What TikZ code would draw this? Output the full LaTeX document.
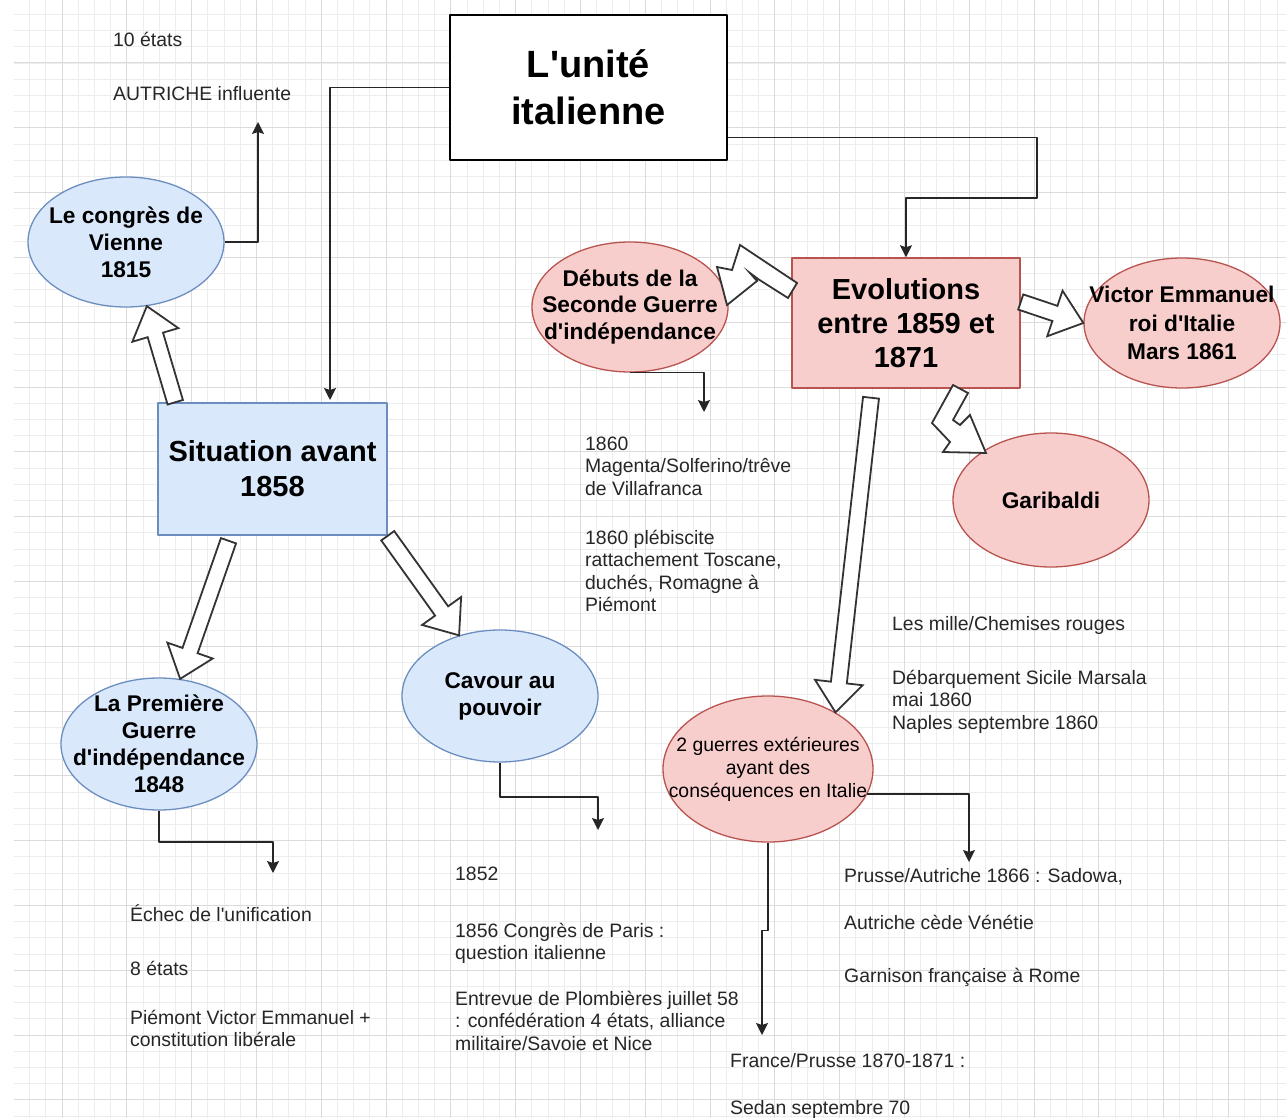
\documentclass[tikz,border=0pt]{standalone}
\usepackage{fontspec}
\setmainfont{Liberation Sans}[Ligatures=TeXOff]
\usetikzlibrary{shapes.geometric,arrows.meta,calc}
\definecolor{bleufond}{HTML}{DAE8FC}
\definecolor{bleutrait}{HTML}{6C8EBF}
\definecolor{rosefond}{HTML}{F8CECC}
\definecolor{rosetrait}{HTML}{B85450}
\tikzset{
  grille/.style={line width=0.7pt,black!7},
  grillefort/.style={line width=1pt,black!14},
  cadre/.style={draw,line width=1.8pt,fill=white,minimum width=277pt,minimum height=145pt,align=center,font=\fontsize{38}{47}\selectfont\bfseries},
  rectbleu/.style={draw=bleutrait,fill=bleufond,line width=1.5pt,minimum width=229pt,minimum height=132pt,align=center,font=\fontsize{29}{35}\selectfont\bfseries},
  rectrose/.style={draw=rosetrait,fill=rosefond,line width=1.5pt,minimum width=228pt,minimum height=130pt,align=center,font=\fontsize{29}{34}\selectfont\bfseries},
  ellbleu/.style={ellipse,draw=bleutrait,fill=bleufond,line width=1.3pt,minimum width=196pt,minimum height=130pt,inner sep=-30pt,align=center,font=\fontsize{22.7}{27}\selectfont\bfseries},
  ellrose/.style={ellbleu,draw=rosetrait,fill=rosefond},
  txt/.style={anchor=north west,align=left,inner sep=0pt,text=black!85,font=\fontsize{19.4}{22.5}\selectfont},
  conn/.style={draw=black!85,line width=1.6pt,-{Stealth[length=12pt,width=12pt,inset=2pt]}},
  gros/.style={draw=black!80,line width=1.8pt,fill=white,line join=miter},
}
% fleche creuse de #1 vers #2
\newcommand\grossefleche[2]{%
  \draw [gros] ($(#1)!8pt!90:(#2)$) -- ($(#2)!30pt!(#1)!8pt!-90:(#1)$)
    -- ($(#2)!30pt!(#1)!24pt!-90:(#1)$) -- (#2)
    -- ($(#2)!30pt!(#1)!24pt!90:(#1)$) -- ($(#2)!30pt!(#1)!8pt!90:(#1)$)
    -- ($(#1)!8pt!-90:(#2)$) -- cycle;}
\begin{document}
\begin{tikzpicture}[x=1pt,y=-1pt,>=Stealth,line join=bevel]
\useasboundingbox (0,0) rectangle (1286,1118);
%% grille
\begin{scope}
\clip (14,0) rectangle (1286,1118);
\foreach \i in {0,...,79} {
  \draw [grille] ({13.4+16.2*\i},0) -- ({13.4+16.2*\i},1118);
  \draw [grille] (0,{14.4+16.2*\i}) -- (1286,{14.4+16.2*\i});
}
\foreach \i in {0,...,19} {
  \draw [grillefort] ({62+64.8*\i},0) -- ({62+64.8*\i},1118);
  \draw [grillefort] (0,{63+64.8*\i}) -- (1286,{63+64.8*\i});
}
\end{scope}
%%
\node (titre) at (588.5,87.5) [cadre] {L'unité\\italienne};
\node (sit) at (272.5,469) [rectbleu] {Situation avant\\1858};
\node (evol) at (906,323) [rectrose] {Evolutions\\entre 1859 et\\1871};
\node (vienne) at (126,242) [ellbleu] {Le congrès de\\Vienne\\1815};
\node (prem) at (159,744) [ellbleu,minimum height=132pt] {La Première\\Guerre\\d'indépendance\\1848};
\node (cavour) at (500,696) [ellbleu,minimum height=132pt] {Cavour au\\pouvoir};
\node (debuts) at (630,307) [ellrose,font=\fontsize{22.7}{26.5}\selectfont\bfseries] {Débuts de la\\Seconde Guerre\\d'indépendance};
\node (ve) at (1182,323) [ellrose,font=\fontsize{22.7}{28.5}\selectfont\bfseries] {Victor Emmanuel\\roi d'Italie\\Mars 1861};
\node (gari) at (1051,500) [ellrose,minimum height=134pt] {Garibaldi};
\node (guerres) at (768,769) [ellrose,minimum width=210pt,minimum height=146pt,font=\fontsize{19.4}{23}\selectfont] {2 guerres extérieures\\ayant des\\conséquences en Italie};
%%
\node (t_etats10) at (113,30.2) [txt] {\strut 10 états};
\node (t_autriche) at (113,84.2) [txt] {\strut AUTRICHE influente};
\node (t_1860a) at (585,434.2) [txt] {\strut 1860\\Magenta/Solferino/trêve\\de Villafranca};
\node (t_1860b) at (585,528.2) [txt] {\strut 1860 plébiscite\\rattachement Toscane,\\duchés, Romagne à\\Piémont};
\node (t_mille) at (892,614.2) [txt] {\strut Les mille/Chemises rouges};
\node (t_sicile) at (892,668.2) [txt] {\strut Débarquement Sicile Marsala\\mai 1860\\Naples septembre 1860};
\node (t_echec) at (130,904) [txt] {Échec de l'unification};
\node (t_etats8) at (130,959.2) [txt] {\strut 8 états};
\node (t_piemont) at (130,1008.2) [txt] {\strut Piémont Victor Emmanuel +\\constitution libérale};
\node (t_1852) at (455,864.2) [txt] {\strut 1852};
\node (t_paris) at (455,921.2) [txt] {\strut 1856 Congrès de Paris :\\question italienne};
\node (t_plomb) at (455,989.2) [txt] {\strut Entrevue de Plombières juillet 58\\: confédération 4 états, alliance\\militaire/Savoie et Nice};
\node (t_sadowa) at (844,866.2) [txt] {\strut Prusse/Autriche 1866 : Sadowa,};
\node (t_venetie) at (844,913.2) [txt] {\strut Autriche cède Vénétie};
\node (t_rome) at (844,966.2) [txt] {\strut Garnison française à Rome};
\node (t_prusse) at (730,1051.2) [txt] {\strut France/Prusse 1870-1871 :};
\node (t_sedan) at (730,1098.2) [txt] {\strut Sedan septembre 70};
%%
\coordinate (fin_autriche) at (258,122);
\coordinate (fin_titre_g) at (330,400);
\coordinate (coude_titre_d) at (1037,198);
\coordinate (fin_debuts) at (704,412);
\coordinate (coude_prem) at (273,842);
\coordinate (fin_prem) at (273,873);
\coordinate (coude_cavour) at (598,797);
\coordinate (fin_cavour) at (598,830);
\coordinate (fin_guerres_d) at (969,862);
\coordinate (fin_guerres_b) at (762,1035);
\draw [conn] (vienne.east) -| (fin_autriche);
\draw [conn] (titre.west) -| (fin_titre_g);
\draw [conn] ([yshift=-50pt]titre.east) -| (coude_titre_d) -| (evol.north);
\draw [conn] (debuts.south) -| (fin_debuts);
\draw [conn] (prem.south) |- (coude_prem) -- (fin_prem);
\draw [conn] (cavour.south) |- (coude_cavour) -- (fin_cavour);
\draw [conn] (guerres.-14) -| (fin_guerres_d);
\draw [conn] (guerres.south) -- ++(0,88) -- ++(-6,0) -- (fin_guerres_b);
%%
\coordinate (b_vienne) at ([xshift=18pt]sit.north west);
\coordinate (b_prem) at ([shift={(-44pt,-5pt)}]sit.south);
\coordinate (b_ve) at ([yshift=21pt]evol.east);
\coordinate (b_guerres) at ([shift={(-35pt,-9pt)}]evol.south);
\grossefleche{b_vienne}{vienne.-72}
\grossefleche{b_prem}{prem.72}
\grossefleche{sit.south east}{cavour.124}
\grossefleche{b_ve}{ve.west}
\grossefleche{b_guerres}{guerres.40}
% fleches brisees
\draw [gros] (797,283) -- (740,245) -- (732,270) -- (717,267) -- (727,305) -- (757,281) -- (750,273) -- (758,279) -- (788,298) -- cycle;
\draw [gros] (953,385) -- (968,393) -- (953,420) -- (960,425) -- (970,415) -- (986,453) -- (943,452) -- (950,442) -- (932,423) -- cycle;
%
\end{tikzpicture}
\end{document}
